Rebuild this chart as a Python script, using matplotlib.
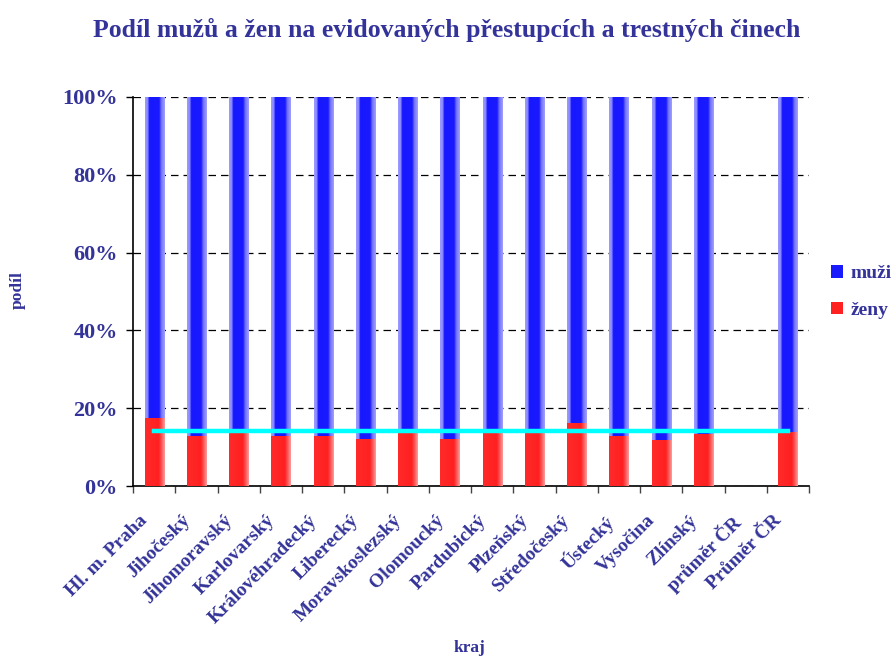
import numpy as np
import matplotlib
matplotlib.use('Agg')
import matplotlib.pyplot as plt
from matplotlib.colors import to_rgb
from matplotlib.transforms import ScaledTranslation

# data (percent)
kraje = ['Hl. m. Praha', 'Jihočeský', 'Jihomoravský', 'Karlovarský',
         'Královéhradecký', 'Liberecký', 'Moravskoslezský', 'Olomoucký',
         'Pardubický', 'Plzeňský', 'Středočeský', 'Ústecký', 'Vysočina',
         'Zlínský', 'průměr ČR', 'Průměr ČR']
zeny = [17.6, 12.9, 13.7, 12.9, 12.9, 12.1, 13.5, 12.1,
        13.7, 13.7, 16.1, 12.9, 11.8, 13.4, np.nan, 14.0]
muzi = [82.4, 87.1, 86.3, 87.1, 87.1, 87.9, 86.5, 87.9,
        86.3, 86.3, 83.9, 87.1, 88.2, 86.6, np.nan, 86.0]
prumer_cr = 14.2

text_col = '#333399'
plt.rcParams['font.family'] = ['Liberation Serif', 'DejaVu Serif']
plt.rcParams['font.weight'] = 'bold'

fig = plt.figure(figsize=(8.93, 6.58), dpi=100)
ax = fig.add_axes([133 / 893, 1 - 486 / 658, 676 / 893, 389 / 658])

x = np.arange(len(kraje))
w = 0.45
bars_z = ax.bar(x, zeny, w, color='#ff2020', label='ženy', zorder=2)
bars_m = ax.bar(x, muzi, w, bottom=zeny, color='#1a1aff', label='muži', zorder=2)


def shade(bars, stops):
    # horizontal gradient inside each bar, clipped to the bar patch
    pos = np.linspace(0, 1, 40)
    cols = np.array([np.interp(pos, [s[0] for s in stops],
                               [to_rgb(s[1])[i] for s in stops]) for i in range(3)]).T
    img = cols[np.newaxis, :, :]
    for b in bars:
        h = b.get_height()
        if np.isnan(h):
            continue
        x0, y0 = b.get_x(), b.get_y()
        im = ax.imshow(img, extent=(x0, x0 + b.get_width(), y0, y0 + h),
                       aspect='auto', interpolation='bilinear', zorder=3)
        im.set_clip_path(b)


shade(bars_m, [(0, '#9a9aff'), (0.14, '#8a8aff'), (0.2, '#1818ff'),
               (0.72, '#1a1aff'), (0.82, '#7070ff'), (1, '#a0a0ff')])
shade(bars_z, [(0, '#ff2a2a'), (0.7, '#ff2020'), (0.85, '#ff5a5a'), (1, '#ff9a9a')])

# average line
ax.plot([x[0], x[-1]], [prumer_cr, prumer_cr], color='#00ffff', lw=3.2, zorder=4)

ax.set_xlim(-0.5, len(kraje) - 0.5)
ax.set_ylim(0, 100)
ax.set_yticks(range(0, 101, 20))
ax.set_yticklabels(['{}%'.format(v) for v in range(0, 101, 20)],
                   fontsize=16, color=text_col, fontweight='bold')
ax.yaxis.grid(True, color='black', linestyle=(0, (6, 4)), linewidth=0.9, zorder=0)
ax.set_axisbelow(True)

# category labels, rotated, placed a bit left of / below each category
ax.set_xticks(np.arange(-0.5, len(kraje)))
ax.set_xticklabels([])
lab_tr = ax.get_xaxis_transform() + ScaledTranslation(-15 / 100, -26 / 100, fig.dpi_scale_trans)
for xi, k in zip(x, kraje):
    ax.text(xi, 0, k, transform=lab_tr, rotation=45, ha='right', va='top',
            rotation_mode='anchor', fontsize=14, color=text_col, fontweight='bold')
ax.tick_params(axis='x', length=5, width=1, color='#444444')
ax.tick_params(axis='y', length=5, width=1, pad=6)

for s in ['top', 'right']:
    ax.spines[s].set_visible(False)
ax.spines['left'].set_linewidth(1.2)
ax.spines['bottom'].set_linewidth(1.2)

fig.text(0.5, 1 - 30 / 658, 'Podíl mužů a žen na evidovaných přestupcích a trestných činech',
         ha='center', va='center', fontsize=18.5, color=text_col, fontweight='bold')
fig.text(18 / 893, 1 - 290 / 658, 'podíl', rotation=90, ha='center', va='center',
         fontsize=12.5, color=text_col, fontweight='bold')
fig.text(470 / 893, 1 - 648 / 658, 'kraj', ha='center', va='center',
         fontsize=12.5, color=text_col, fontweight='bold')

leg = ax.legend(handles=[bars_m, bars_z], labels=['muži', 'ženy'],
                loc='center left', bbox_to_anchor=(831 / 893, 1 - 292 / 658),
                bbox_transform=fig.transFigure, frameon=False, fontsize=14,
                borderpad=0, borderaxespad=0,
                handlelength=0.6, handleheight=0.6, handletextpad=0.4, labelspacing=1.0)
for t in leg.get_texts():
    t.set_color(text_col)

fig.savefig('out.png', dpi=100)
